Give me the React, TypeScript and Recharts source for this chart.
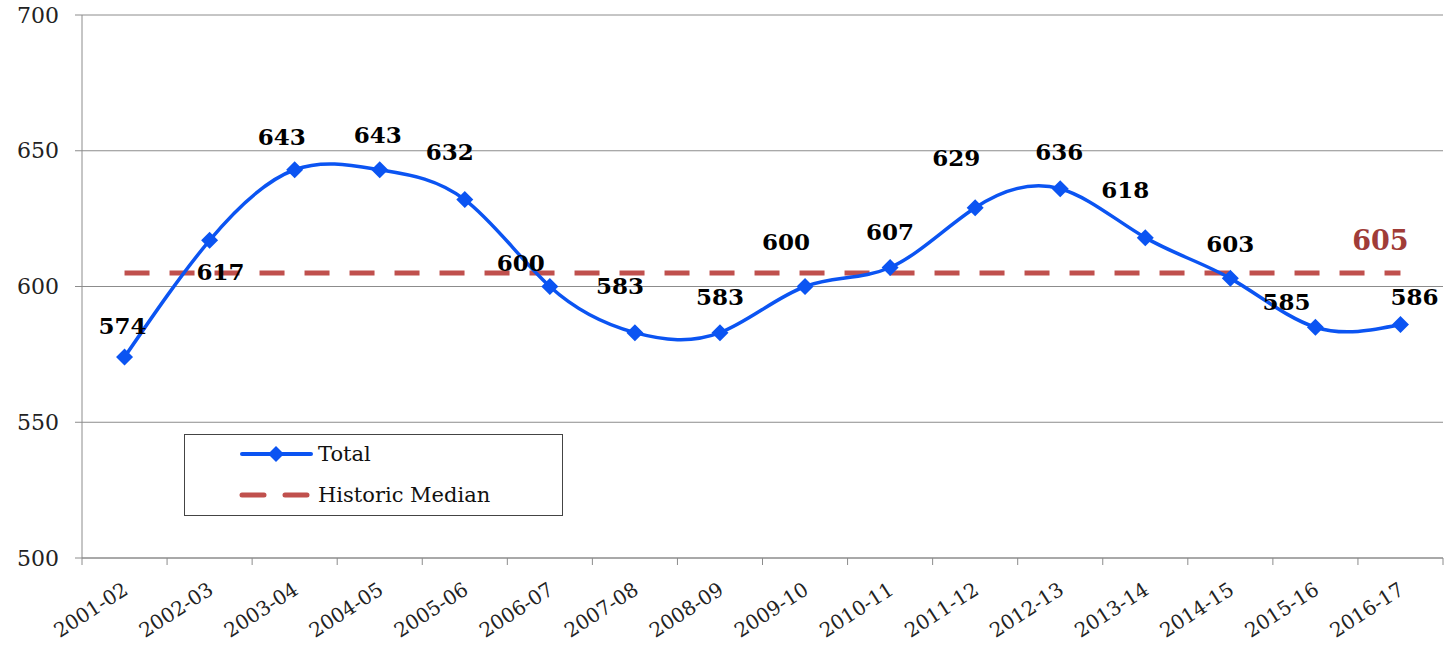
import { LineChart, Line, XAxis, YAxis, CartesianGrid, LabelList } from "recharts";

// school years on the x axis
const years = [
  "2001-02", "2002-03", "2003-04", "2004-05", "2005-06", "2006-07", "2007-08", "2008-09",
  "2009-10", "2010-11", "2011-12", "2012-13", "2013-14", "2014-15", "2015-16", "2016-17",
];
const totals = [574, 617, 643, 643, 632, 600, 583, 583, 600, 607, 629, 636, 618, 603, 585, 586];
const medianValue = 605;
const yTicks = [500, 550, 600, 650, 700];

// where each value label sits relative to its marker (dx, dy)
const labelOffsets: [number, number][] = [
  [-2, -32], [11, 31], [-13, -33], [-2, -35], [-15, -48], [-29, -24], [-15, -47], [0, -36],
  [-19, -45], [0, -36], [-19, -50], [-1, -37], [-20, -48], [0, -35], [-29, -26], [14, -28],
];

const data = years.map((y, i) => ({ year: y, pos: i + 0.5, total: totals[i], median: medianValue }));
const boundaryTicks = years.map((_, i) => i).concat(years.length);
const centerTicks = years.map((_, i) => i + 0.5);

const SERIF = "'DejaVu Serif', Georgia, serif";
const BLUE = "#0B54F2";
const RED = "#C0504D";

const Diamond = (props: any) => {
  const { cx, cy } = props;
  if (cx == null || cy == null) return null;
  const r = 8.5;
  return <path d={`M${cx},${cy - r}L${cx + r},${cy}L${cx},${cy + r}L${cx - r},${cy}Z`} fill={BLUE} />;
};

const ValueLabel = (props: any) => {
  const { x, y, value, index } = props;
  const [dx, dy] = labelOffsets[index] || [0, -30];
  return (
    <text x={x + dx} y={y + dy} textAnchor="middle" dominantBaseline="central"
      fontFamily={SERIF} fontWeight="bold" fontSize={23} fill="#000">
      {value}
    </text>
  );
};

const MedianLabel = (props: any) => {
  const { x, y, index } = props;
  if (index !== years.length - 1) return null;
  return (
    <text x={x - 20} y={y - 32} textAnchor="middle" dominantBaseline="central"
      fontFamily={SERIF} fontWeight="bold" fontSize={27} fill="#A03C38">
      {medianValue}
    </text>
  );
};

const NoLabel = () => <g />;

const YearTick = (props: any) => {
  const { x, y, payload } = props;
  return (
    <text transform={`translate(${x + 5},${y + 19}) rotate(-33)`} textAnchor="end"
      fontFamily={SERIF} fontSize={20} fill="#222">
      {years[Math.floor(payload.value)]}
    </text>
  );
};

const ValueTick = (props: any) => {
  const { y, payload } = props;
  return (
    <text x={59} y={y} textAnchor="end" dominantBaseline="central"
      fontFamily={SERIF} fontSize={22} fill="#222">
      {payload.value}
    </text>
  );
};

const LegendBox = () => (
  <div style={{ position: "absolute", left: 184, top: 434, width: 379, height: 82, border: "1.5px solid #444", background: "#fff", boxSizing: "border-box", fontFamily: SERIF, fontSize: 21, color: "#111" }}>
    <svg width={80} height={80} style={{ position: "absolute", left: 52, top: 0 }}>
      <line x1={5} y1={19} x2={74} y2={19} stroke={BLUE} strokeWidth={4} strokeLinecap="round" />
      <path d="M39,11L47,19L39,27L31,19Z" fill={BLUE} />
      <line x1={5} y1={60} x2={74} y2={60} stroke={RED} strokeWidth={5} strokeDasharray="22 21" strokeLinecap="round" />
    </svg>
    <div style={{ position: "absolute", left: 133, top: 5, lineHeight: "28px" }}>Total</div>
    <div style={{ position: "absolute", left: 133, top: 46, lineHeight: "28px" }}>Historic Median</div>
  </div>
);

export default function App() {
  return (
    <div style={{ position: "absolute", left: 0, top: 0, width: 1447, height: 648, background: "#fff" }}>
      <LineChart width={1447} height={648} data={data} margin={{ top: 15, right: 4, left: 0, bottom: 0 }}>
        <CartesianGrid vertical={false} stroke="#8c8c8c" strokeWidth={1} xAxisId="bands" />
        <XAxis xAxisId="bands" dataKey="pos" type="number" domain={[0, years.length]} ticks={boundaryTicks}
          interval={0} tick={<NoLabel />} tickLine={{ stroke: "#8c8c8c" }} tickSize={7}
          axisLine={{ stroke: "#8c8c8c" }} height={8} />
        <XAxis xAxisId="labels" dataKey="pos" type="number" domain={[0, years.length]} ticks={centerTicks}
          interval={0} tick={<YearTick />} tickLine={false} axisLine={false} height={82} />
        <YAxis domain={[500, 700]} ticks={yTicks} width={82} tick={<ValueTick />} tickSize={7}
          stroke="#8c8c8c" />
        <Line xAxisId="bands" dataKey="median" type="linear" stroke={RED} strokeWidth={5}
          strokeDasharray="25 20" dot={false} activeDot={false} isAnimationActive={false}>
          <LabelList dataKey="median" content={<MedianLabel />} />
        </Line>
        <Line xAxisId="bands" dataKey="total" type="natural" stroke={BLUE} strokeWidth={3.5}
          dot={<Diamond />} activeDot={false} isAnimationActive={false}>
          <LabelList dataKey="total" content={<ValueLabel />} />
        </Line>
      </LineChart>
      <LegendBox />
    </div>
  );
}
